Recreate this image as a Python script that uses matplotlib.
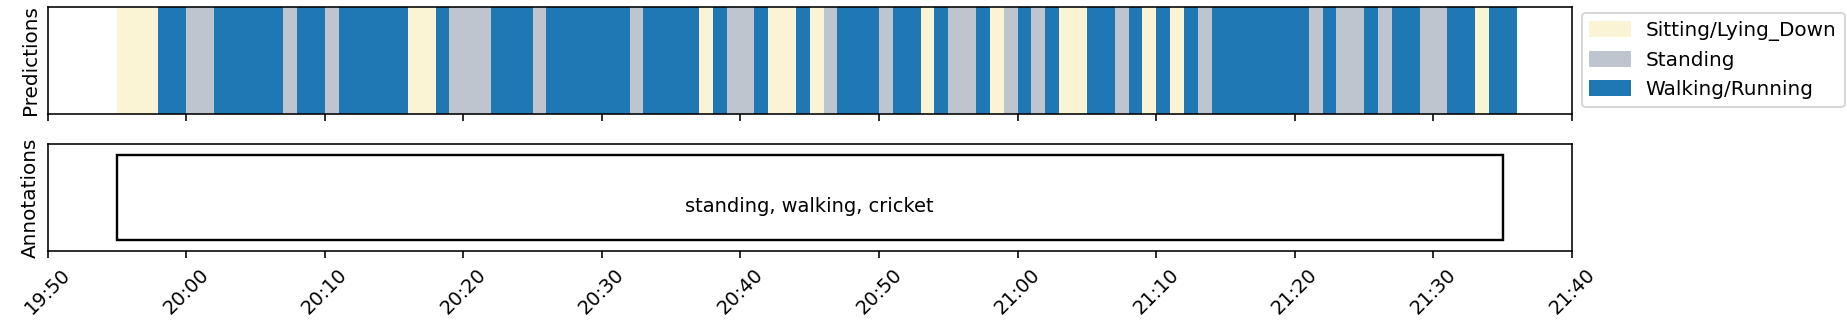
import pandas as pd
import matplotlib
matplotlib.use("Agg")
import matplotlib.pyplot as plt
import matplotlib.dates as mdates
from matplotlib.patches import Patch, Rectangle

# predicted activity segments (start time, class); last segment ends at pred_end
pred_starts = ["19:55", "19:58", "20:00", "20:02", "20:07", "20:08", "20:10", "20:11",
               "20:16", "20:18", "20:19", "20:22", "20:25", "20:26", "20:32", "20:33",
               "20:37", "20:38", "20:39", "20:41", "20:42", "20:44", "20:45", "20:46",
               "20:47", "20:50", "20:51", "20:53", "20:54", "20:55", "20:57", "20:58",
               "20:59", "21:00", "21:01", "21:02", "21:03", "21:05", "21:07", "21:08",
               "21:09", "21:10", "21:11", "21:12", "21:13", "21:14", "21:21", "21:22",
               "21:23", "21:25", "21:26", "21:27", "21:29", "21:31", "21:33", "21:34"]
pred_labels = ["Sitting/Lying_Down", "Walking/Running", "Standing", "Walking/Running",
               "Standing", "Walking/Running", "Standing", "Walking/Running",
               "Sitting/Lying_Down", "Walking/Running", "Standing", "Walking/Running",
               "Standing", "Walking/Running", "Standing", "Walking/Running",
               "Sitting/Lying_Down", "Walking/Running", "Standing", "Walking/Running",
               "Sitting/Lying_Down", "Walking/Running", "Sitting/Lying_Down", "Standing",
               "Walking/Running", "Standing", "Walking/Running", "Sitting/Lying_Down",
               "Walking/Running", "Standing", "Walking/Running", "Sitting/Lying_Down",
               "Standing", "Walking/Running", "Standing", "Walking/Running",
               "Sitting/Lying_Down", "Walking/Running", "Standing", "Walking/Running",
               "Sitting/Lying_Down", "Walking/Running", "Sitting/Lying_Down", "Walking/Running",
               "Standing", "Walking/Running", "Standing", "Walking/Running",
               "Standing", "Walking/Running", "Standing", "Walking/Running",
               "Standing", "Walking/Running", "Sitting/Lying_Down", "Walking/Running"]
pred_end = "21:36"

# annotation interval
annot_start = "19:55"
annot_end = "21:35"
annot_text = "standing, walking, cricket"

x_min, x_max = "19:50", "21:40"

classes = ["Sitting/Lying_Down", "Standing", "Walking/Running"]
colors = {"Sitting/Lying_Down": "#FAF4D4",
          "Standing": "#BEC5CE",
          "Walking/Running": "#1F77B4"}


def to_num(hm):
    return mdates.date2num(pd.Timestamp("2000-01-01 " + hm))


W, H = 1847, 331
fig = plt.figure(figsize=(W / 144, H / 144), dpi=144)
ax1 = fig.add_axes([47.5 / W, 1 - 114 / H, 1524.5 / W, 107 / H])
ax2 = fig.add_axes([47.5 / W, 1 - 251 / H, 1524.5 / W, 107 / H], sharex=ax1)

# predictions
bounds = [to_num(s) for s in pred_starts] + [to_num(pred_end)]
for i, lab in enumerate(pred_labels):
    ax1.axvspan(bounds[i], bounds[i + 1], ymin=0, ymax=1, color=colors[lab], lw=0)
ax1.set_ylim(0, 1)
ax1.set_yticks([])
ax1.set_ylabel("Predictions")
ax1.tick_params(axis="x", labelbottom=False)
handles = [Patch(color=colors[c], label=c) for c in classes]
ax1.legend(handles=handles, loc="upper left", bbox_to_anchor=(1.0064, 0.947),
           borderaxespad=0)

# annotations
a0, a1 = to_num(annot_start), to_num(annot_end)
ax2.add_patch(Rectangle((a0, 0.1), a1 - a0, 0.8, facecolor="white",
                        edgecolor="black", lw=1.2))
ax2.text((a0 + a1) / 2, 0.5, annot_text, ha="center", va="top", fontsize=9.7)
ax2.set_ylim(0, 1)
ax2.set_yticks([])
ax2.set_ylabel("Annotations")

ax2.set_xlim(to_num(x_min), to_num(x_max))
ax2.xaxis.set_major_locator(mdates.MinuteLocator(byminute=range(0, 60, 10)))
ax2.xaxis.set_major_formatter(mdates.DateFormatter("%H:%M"))
plt.setp(ax2.get_xticklabels(), rotation=45, ha="center", fontsize=9.7)

fig.savefig("out.png", dpi=144)
